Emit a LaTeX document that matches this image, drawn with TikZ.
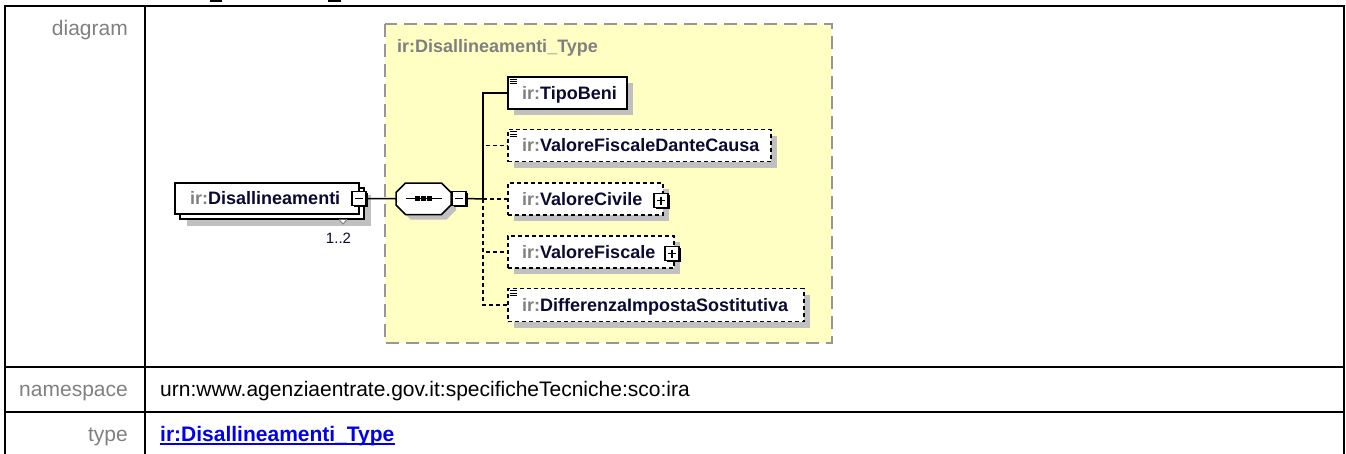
\documentclass[tikz,border=0pt]{standalone}
\usepackage{fontspec}
\setmainfont{Liberation Sans}
\usetikzlibrary{shadows}
\definecolor{ylw}{RGB}{255,255,196}
\definecolor{pref}{RGB}{128,128,128}
\definecolor{nm}{RGB}{10,10,50}
\definecolor{lnk}{RGB}{0,0,238}
\definecolor{shd}{RGB}{192,192,192}
\definecolor{ybord}{RGB}{150,150,150}
\tikzset{
  tbl/.style={line width=2pt, black},
  tlbl/.style={font=\fontsize{21}{25}\selectfont, text=pref, anchor=base east, inner sep=0pt},
  tval/.style={font=\fontsize{21}{25}\selectfont, text=black, anchor=base west, inner sep=0pt},
  ebox/.style={draw=black, fill=white, line width=1.6pt, minimum height=32pt, inner sep=0pt, anchor=west,
    drop shadow={shadow xshift=6pt, shadow yshift=-6pt, fill=shd, opacity=1}},
  optl/.style={dash pattern=on 4pt off 3pt},
  elbl/.style={font=\fontsize{18}{21}\selectfont\bfseries, text=nm, inner sep=0pt, anchor=base west},
  pmbox/.style={draw=black, fill=white, line width=1.4pt, minimum size=14pt, inner sep=0pt,
    drop shadow={shadow xshift=1.6pt, shadow yshift=-1.6pt, fill=black, opacity=1}},
  minusbox/.style={pmbox, path picture={\draw[line width=1.4pt] ([xshift=3pt]path picture bounding box.west) -- ([xshift=-3pt]path picture bounding box.east);}},
  plusbox/.style={pmbox, path picture={\draw[line width=1.4pt] ([xshift=3pt]path picture bounding box.west) -- ([xshift=-3pt]path picture bounding box.east);
      \draw[line width=1.4pt] ([yshift=-3pt]path picture bounding box.north) -- ([yshift=3pt]path picture bounding box.south);}},
  conn/.style={line width=1.5pt, black},
  stackbox/.style={draw=black, fill=white, line width=1.4pt, minimum width=184pt, minimum height=31pt, inner sep=0pt}
}
\newcommand\docicon[1]{\foreach \k in {0,1,2}{\draw[line width=0.8pt] ([xshift=2.5pt,yshift={-(3+2.3*\k)*1pt}]#1.north west) -- ++(7,0);}}
\begin{document}
\begin{tikzpicture}[x=1pt,y=-1pt]
\useasboundingbox (0,0) rectangle (1346,453);
\clip (0,0) rectangle (1346,453);
% cut-off title fragments
\fill (210,0) rectangle (222,2);
\fill (328,0) rectangle (341,2);
% table
\draw[tbl] (5,470) -- (5,6) -- (1344,6) -- (1344,470);
\draw[tbl] (145,6) -- (145,470);
\draw[tbl] (5,366.5) -- (1344,366.5);
\draw[tbl] (5,412) -- (1344,412);
\node[tlbl] (ldiag) at (128,35) {diagram};
\node[tlbl] (lns) at (128,396.5) {namespace};
\node[tlbl] (ltype) at (128,441.5) {type};
\node[tval] (vns) at (160,396.5) {urn:www.agenziaentrate.gov.it:specificheTecniche:sco:ira};
\node[tval, text=lnk, font=\fontsize{21}{25}\selectfont\bfseries] (vtype) at (160,441.5) {ir:Disallineamenti\_Type};
\draw[lnk, line width=1.3pt] ([yshift=-2.5pt]vtype.base west) -- ([yshift=-2.5pt]vtype.base east);
% complex type box
\draw[fill=ylw, draw=ybord, line width=1.6pt, dash pattern=on 13pt off 7pt] (385,24) rectangle (832,343);
\node[elbl, text=pref] (ctype) at (397,52) {ir:Disallineamenti\_Type};
% children
\node[ebox, minimum width=119pt] (tipo) at (507,93) {};
\node[ebox, optl, minimum width=263pt] (vfdc) at (507,145.5) {};
\node[ebox, optl, minimum width=155pt] (vc) at (507,199) {};
\node[ebox, optl, minimum width=166pt] (vf) at (507,252) {};
\node[ebox, optl, minimum width=296pt, minimum height=33pt] (dif) at (507,305) {};
\node[elbl] (tipoT) at (522,99) {\textcolor{pref}{ir:}TipoBeni};
\node[elbl] (vfdcT) at (522,151.5) {\textcolor{pref}{ir:}ValoreFiscaleDanteCausa};
\node[elbl] (vcT) at (522,205) {\textcolor{pref}{ir:}ValoreCivile};
\node[elbl] (vfT) at (522,258) {\textcolor{pref}{ir:}ValoreFiscale};
\node[elbl] (difT) at (522,311) {\textcolor{pref}{ir:}DifferenzaImpostaSostitutiva};
\docicon{tipo}
\docicon{vfdc}
\docicon{dif}
\node[plusbox] (vcpm) at (661,200.5) {};
\node[plusbox] (vfpm) at (672,253.5) {};
% element Disallineamenti
\node[stackbox, drop shadow={shadow xshift=7pt, shadow yshift=-7pt, fill=shd, opacity=1}] (disback) at (272,203.5) {};
\draw[gray, fill=white, line width=0.9pt] (339,219.5) -- (343,224) -- (347,219.5);
\node[stackbox] (disel) at (267,198.5) {};
\node[elbl] (disT) at (190,204.5) {\textcolor{pref}{ir:}Disallineamenti};
\node[minusbox] (dispm) at (359,198.5) {};
\node[font=\fontsize{15}{18}\selectfont, text=nm, anchor=base, inner sep=0pt] (mult) at (338.5,243) {1..2};
% sequence compositor
\node[minimum width=55pt, minimum height=31.5pt, inner sep=0pt] (seq) at (423.5,198.75) {};
\draw[conn] (dispm.east) -- (seq.west);
\begin{scope}[shift={(seq.center)}]
  \fill[shd, shift={(5,5)}] (-18,-15.75) -- (18,-15.75) -- (27.5,-6.25) -- (27.5,6.25) -- (18,15.75) -- (-18,15.75) -- (-27.5,6.25) -- (-27.5,-6.25) -- cycle;
  \draw[fill=white, line width=1.5pt] (-18,-15.75) -- (18,-15.75) -- (27.5,-6.25) -- (27.5,6.25) -- (18,15.75) -- (-18,15.75) -- (-27.5,6.25) -- (-27.5,-6.25) -- cycle;
\end{scope}
\draw[line width=1.3pt] ([xshift=-18pt]seq.center) -- ([xshift=18pt]seq.center);
\foreach \d in {-6,0,6}{\fill ([xshift=\d pt]seq.center) ++(-2.4,-2.4) rectangle ++(4.8,4.8);}
\node[minusbox] (seqpm) at (459,198.5) {};
% connectors to children
\coordinate (sp) at (483,199);
\draw[conn] (seqpm.east) -- (sp);
\draw[conn] (sp) |- (tipo.west);
\draw[conn, optl] (sp) |- (vfdc.west);
\draw[conn, optl] (sp) -- (vc.west);
\draw[conn, optl] (sp) |- (vf.west);
\draw[conn, optl] (sp) |- (dif.west);
\end{tikzpicture}
\end{document}
